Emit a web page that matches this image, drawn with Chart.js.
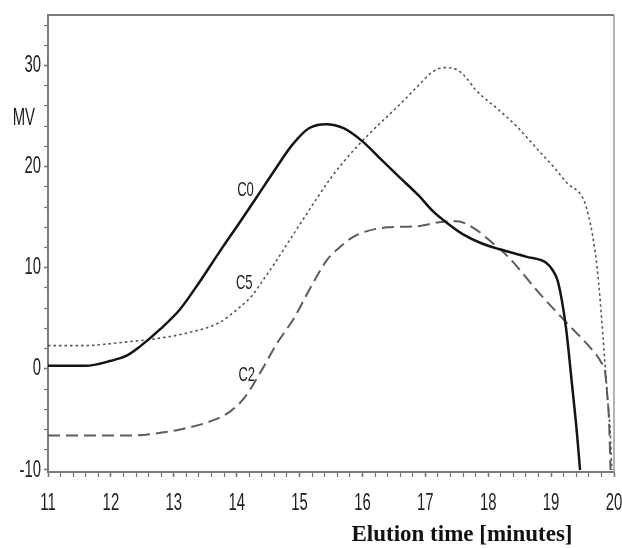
<!DOCTYPE html>
<html>
<head>
<meta charset="utf-8">
<title>Elution time</title>
<script src="https://cdn.jsdelivr.net/npm/chart.js@4.4.1/dist/chart.umd.min.js"></script>
<style>
  html, body { margin: 0; padding: 0; background: #fff; }
  #wrap { width: 622px; height: 548px; position: relative; }
</style>
</head>
<body>
<div id="wrap"><canvas id="chart"></canvas></div>
<script>
// values: elution time [minutes] vs signal [MV]
const c0Time = [11, 11.6, 12, 12.25, 12.46, 12.78, 13.1, 13.41, 13.73, 14.05, 14.32, 14.63, 14.89, 15.15, 15.42, 15.7, 16, 16.3, 16.6, 16.9, 17.12, 17.33, 17.6, 17.9, 18.2, 18.6, 18.92, 19.02, 19.1, 19.17, 19.24, 19.33, 19.41, 19.46]
const c0Mv = [0.3, 0.3, 0.8, 1.3, 2.2, 3.9, 5.9, 8.6, 11.6, 14.5, 17.0, 19.9, 22.2, 23.8, 24.2, 23.8, 22.5, 20.7, 18.9, 17.1, 15.6, 14.5, 13.3, 12.4, 11.8, 11.1, 10.5, 9.8, 8.8, 6.8, 3.9, -1.4, -6.3, -10]

const c5Time = [11, 11.6, 12, 12.3, 12.62, 13.25, 13.73, 14.05, 14.24, 14.4, 14.6, 14.85, 15.1, 15.5, 15.8, 16.1, 16.4, 16.65, 16.9, 17.1, 17.3, 17.5, 17.65, 17.8, 18.15, 18.45, 18.8, 19.05, 19.25, 19.52, 19.6, 19.66, 19.73, 19.78, 19.82, 19.86, 19.9, 19.94, 19.965]
const c5Mv = [2.3, 2.3, 2.5, 2.7, 2.9, 3.6, 4.6, 6.1, 7.2, 8.6, 10.4, 12.8, 15.2, 18.9, 21.2, 23.2, 25.0, 26.5, 28.1, 29.3, 29.8, 29.6, 28.8, 27.6, 25.7, 24.0, 21.6, 19.9, 18.4, 16.7, 15.0, 13.2, 10.1, 6.8, 3.6, 0.2, -3.1, -6.3, -10]

const c2Time = [11, 12.3, 12.7, 13.1, 13.62, 13.9, 14.13, 14.4, 14.65, 14.92, 15.11, 15.27, 15.44, 15.67, 15.84, 16.06, 16.4, 16.86, 17.22, 17.5, 17.75, 18.06, 18.33, 18.81, 19.24, 19.65, 19.79, 19.86, 19.89, 19.92, 19.945]
const c2Mv = [-6.6, -6.6, -6.4, -6.0, -5.1, -4.2, -2.8, -0.1, 2.6, 5.1, 7.3, 9.1, 10.8, 12.2, 13.0, 13.6, 14.0, 14.1, 14.5, 14.6, 14.0, 12.5, 11.0, 7.5, 4.6, 1.9, 0.7, -0.4, -2.4, -5.0, -10]

const xTickLabels = ["11", "12", "13", "14", "15", "16", "17", "18", "19", "20"]
const yTickLabels = ["-10", "0", "10", "20", "30"]

// where the curve names sit, in data units
const curveNames = [
  { text: "C0", x: 14.14, y: 17.7 },
  { text: "C5", x: 14.12, y: 8.5 },
  { text: "C2", x: 14.16, y: -0.6 }
]

function toPoints(xs, ys) {
  return xs.map((x, i) => ({ x: x, y: ys[i] }))
}

// the original lettering is a tall, narrow sans: draw it squeezed sideways
const SQUASH = 0.62

function squashedText(ctx, text, x, y, align) {
  ctx.save()
  ctx.translate(x, y)
  ctx.scale(SQUASH, 1)
  ctx.textAlign = align
  ctx.fillText(text, 0, 0)
  ctx.restore()
}

const textPlugin = {
  id: "textPlugin",
  afterDraw(chart) {
    const ctx = chart.ctx
    const area = chart.chartArea
    const xs = chart.scales.x
    const ys = chart.scales.y

    // top and right frame
    ctx.save()
    ctx.strokeStyle = "#7a7a7a"
    ctx.lineWidth = 2
    ctx.beginPath()
    ctx.moveTo(area.left, area.top)
    ctx.lineTo(area.right, area.top)
    ctx.stroke()
    ctx.strokeStyle = "#9a9a9a"
    ctx.lineWidth = 1.5
    ctx.beginPath()
    ctx.moveTo(area.right, area.top)
    ctx.lineTo(area.right, area.bottom)
    ctx.stroke()

    ctx.fillStyle = "#1e1e1e"
    ctx.textBaseline = "middle"
    ctx.font = "24px 'Liberation Sans', Arial, sans-serif"
    xTickLabels.forEach(t => {
      squashedText(ctx, t, xs.getPixelForValue(Number(t)), area.bottom + 31, "center")
    })
    yTickLabels.forEach(t => {
      squashedText(ctx, t, area.left - 7, ys.getPixelForValue(Number(t)), "right")
    })
    squashedText(ctx, "MV", area.left - 13, ys.getPixelForValue(24.75), "right")

    ctx.font = "21px 'Liberation Sans', Arial, sans-serif"
    curveNames.forEach(n => {
      squashedText(ctx, n.text, xs.getPixelForValue(n.x), ys.getPixelForValue(n.y), "center")
    })

    ctx.font = "bold 23px 'Liberation Serif', 'Times New Roman', serif"
    ctx.textAlign = "center"
    ctx.fillStyle = "#111"
    ctx.fillText("Elution time [minutes]", area.right - 152, area.bottom + 63)
    ctx.restore()
  }
}

const isLabelStep = (v, step) => Math.abs(v / step - Math.round(v / step)) < 1e-6

new Chart(document.getElementById("chart"), {
  type: "line",
  data: {
    datasets: [
      {
        label: "C0",
        data: toPoints(c0Time, c0Mv),
        borderColor: "#141414",
        borderWidth: 2.5
      },
      {
        label: "C5",
        data: toPoints(c5Time, c5Mv),
        borderColor: "#555",
        borderWidth: 1.6,
        borderDash: [2.5, 3]
      },
      {
        label: "C2",
        data: toPoints(c2Time, c2Mv),
        borderColor: "#5c5c5c",
        borderWidth: 2,
        borderDash: [12, 6]
      }
    ]
  },
  options: {
    responsive: true,
    maintainAspectRatio: false,
    animation: false,
    layout: { padding: { top: 15, right: 8, left: 0, bottom: 0 } },
    elements: {
      point: { radius: 0 },
      line: { cubicInterpolationMode: "monotone", fill: false }
    },
    plugins: {
      legend: { display: false },
      tooltip: { enabled: false }
    },
    scales: {
      x: {
        type: "linear",
        min: 11,
        max: 20,
        afterFit: (scale) => { scale.height = 76 },
        ticks: { display: false, stepSize: 0.2, autoSkip: false, maxTicksLimit: 200 },
        grid: {
          drawOnChartArea: false,
          drawTicks: true,
          tickLength: 5,
          tickColor: "#777",
          tickWidth: (c) => isLabelStep(c.tick.value, 1) ? 1.6 : 1.2
        },
        border: { display: true, color: "#7a7a7a", width: 2 }
      },
      y: {
        type: "linear",
        min: -10.2,
        max: 35,
        afterFit: (scale) => { scale.width = 48 },
        ticks: { display: false, stepSize: 2, includeBounds: false },
        grid: {
          drawOnChartArea: false,
          drawTicks: true,
          tickLength: 4,
          tickColor: "#777",
          tickWidth: (c) => isLabelStep(c.tick.value, 10) ? 1.6 : 1.2
        },
        border: { display: true, color: "#7a7a7a", width: 2 }
      }
    }
  },
  plugins: [textPlugin]
})
</script>
</body>
</html>
